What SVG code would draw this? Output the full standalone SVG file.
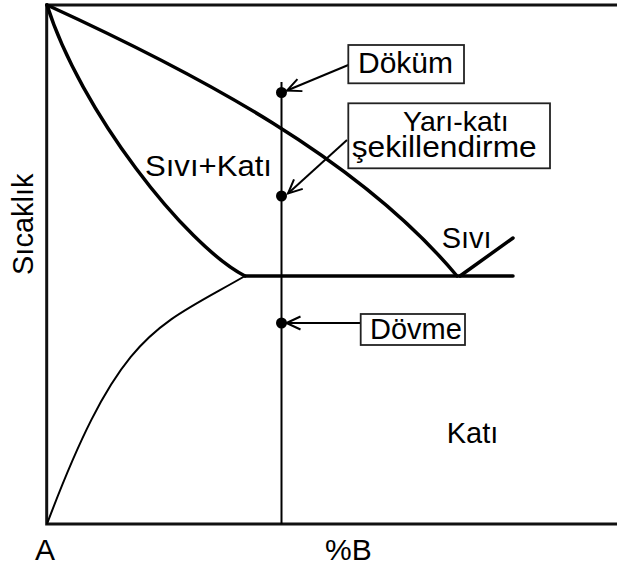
<svg xmlns="http://www.w3.org/2000/svg" width="617" height="567" viewBox="0 0 617 567">
<style>
text{font-family:"Liberation Sans",Arial,sans-serif;fill:#000}
.thick{fill:none;stroke:#000;stroke-width:3.5;stroke-linecap:round;stroke-linejoin:round}
.thin{fill:none;stroke:#000;stroke-width:2}
.axis{fill:none;stroke:#111;stroke-width:3}
.box{fill:#fff;stroke:#222;stroke-width:1.8}
.arr{fill:none;stroke:#000;stroke-width:2;marker-end:url(#open)}
</style>
<defs>
<marker id="open" markerUnits="userSpaceOnUse" viewBox="-16 -9 18 18" refX="0" refY="0" markerWidth="18" markerHeight="18" orient="auto">
<path d="M-14,-6.5 L0,0 L-14,6.5" fill="none" stroke="#000" stroke-width="2"/>
</marker>
</defs>
<g id="axes">
<path class="axis" d="M617,5 H46.7 V524 H617"/>
<text transform="translate(33.3,275) rotate(-90)" font-size="29">Sıcaklık</text>
<text x="35" y="560" font-size="30">A</text>
<text x="325" y="560" font-size="30">%B</text>
</g>
<g id="curves">
<path id="liquidus" class="thick" d="M47,5 C200,75 360,160 457,276"/>
<path id="solidus" class="thick" d="M47,5 C80,110 185,245 245,276"/>
<path id="eutectic" class="thick" d="M245,276 H513"/>
<path id="liquidus-b" class="thick" d="M460,276 L513,238"/>
<path id="solvus" class="thin" d="M47,524 C120,330 155,328 245,276"/>
<path id="composition" class="thin" d="M281.5,82 V524"/>
</g>
<g id="regions">
<text x="145" y="175.5" font-size="30" textLength="127" lengthAdjust="spacingAndGlyphs">Sıvı+Katı</text>
<text x="441.7" y="248.3" font-size="29">Sıvı</text>
<text x="446.7" y="443.3" font-size="29">Katı</text>
</g>
<g id="points">
<circle cx="281.5" cy="92.5" r="5.5"/>
<circle cx="281.5" cy="196" r="5.5"/>
<circle cx="281.5" cy="323" r="5.5"/>
</g>
<g id="connectors">
<line class="arr" x1="348.3" y1="65" x2="287" y2="90.5"/>
<line class="arr" x1="347" y1="140" x2="288" y2="193.5"/>
<line class="arr" x1="360.7" y1="323" x2="286.5" y2="323"/>
</g>
<g id="node-dokum">
<rect class="box" x="348.3" y="45" width="115.7" height="38.3"/>
<text x="358" y="73.3" font-size="30">Döküm</text>
</g>
<g id="node-yarikati">
<rect class="box" x="348.3" y="103.3" width="201.7" height="65"/>
<text x="403" y="131" font-size="28.5">Yarı-katı</text>
<text x="351.7" y="157" font-size="29.5" textLength="185" lengthAdjust="spacingAndGlyphs">şekillendirme</text>
</g>
<g id="node-dovme">
<rect class="box" x="360.7" y="314" width="104.3" height="31"/>
<text x="370" y="339.3" font-size="29">Dövme</text>
</g>
</svg>
